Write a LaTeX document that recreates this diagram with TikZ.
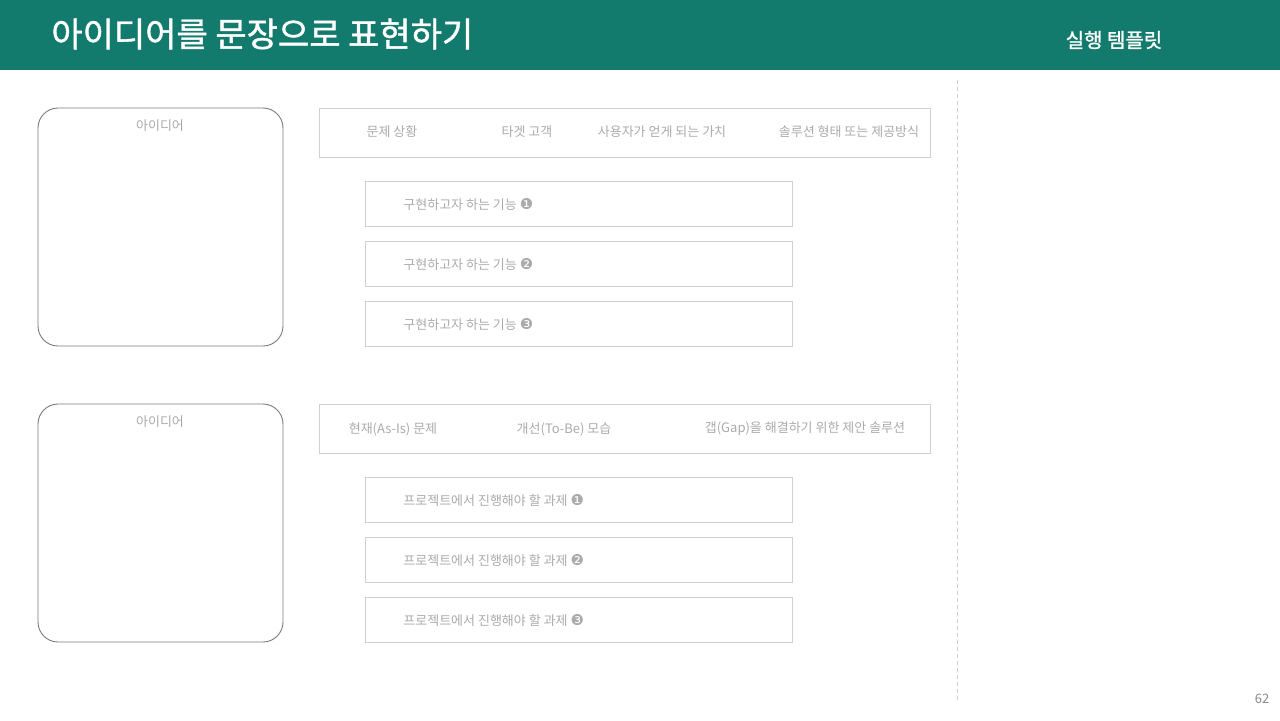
\documentclass[tikz,border=0pt]{standalone}
\usepackage{fontspec}
\setmainfont{Noto Sans CJK KR}
\newfontfamily\symfont{DejaVu Sans}
\newfontfamily\headfont[FakeBold=1.2]{Noto Sans CJK KR}
\definecolor{hdrgreen}{HTML}{137B6D}
\definecolor{boxline}{HTML}{D0D0D0}
\definecolor{roundline}{HTML}{7A7A7A}
\definecolor{lbltext}{HTML}{ABABAB}
\definecolor{pagegray}{HTML}{8A8A8A}
\begin{document}
\begin{tikzpicture}[x=0.5pt,y=-0.5pt,
  ideabox/.style={draw=roundline,line width=0.45pt,rounded corners=10pt},
  rowbox/.style={draw=boxline,line width=0.45pt},
  lbl/.style={text=lbltext,font=\fontsize{6.5}{7.5}\selectfont,inner sep=0pt}]
\newcommand\cnum[1]{{\symfont\fontsize{7.5}{8}\selectfont #1}}
\useasboundingbox (0,0) rectangle (1280,720);
\fill[white] (0,0) rectangle (1280,720);
% header
\fill[hdrgreen] (0,0) rectangle (1280,70);
\node[anchor=west,text=white,inner sep=0pt,font=\headfont\fontsize{17}{20}\selectfont] (title) at (51,34) {아이디어를 문장으로 표현하기};
\node[text=white,inner sep=0pt,font=\headfont\fontsize{10}{12}\selectfont] (sub) at (1114,40) {실행 템플릿};
% divider
\coordinate (dtop) at (957,80);
\coordinate (dbot) at (957,702);
\draw[boxline,line width=0.4pt,dash pattern=on 2pt off 1.5pt] (dtop) -- (dbot);
\node[text=pagegray,inner sep=0pt,font=\fontsize{6.5}{8}\selectfont] (page) at (1262,699) {62};

% ===== group 1 =====
\draw[ideabox] (38,108) rectangle (283,346);
\node[lbl] (idea1) at (160,126) {아이디어};
\draw[rowbox] (319,108) rectangle (930,157);
\node[lbl] (h11) at (392,132) {문제 상황};
\node[lbl] (h12) at (527,132) {타겟 고객};
\node[lbl] (h13) at (662,132) {사용자가 얻게 되는 가치};
\node[lbl] (h14) at (849,132) {솔루션 형태 또는 제공방식};
\draw[rowbox] (365,181) rectangle (792,226);
\draw[rowbox] (365,241) rectangle (792,286);
\draw[rowbox] (365,301) rectangle (792,346);
\node[lbl,anchor=west] (f1) at (403,204) {구현하고자 하는 기능 \cnum{❶}};
\node[lbl,anchor=west] (f2) at (403,264) {구현하고자 하는 기능 \cnum{❷}};
\node[lbl,anchor=west] (f3) at (403,324) {구현하고자 하는 기능 \cnum{❸}};

% ===== group 2 =====
\draw[ideabox] (38,404) rectangle (283,642);
\node[lbl] (idea2) at (160,422) {아이디어};
\draw[rowbox] (319,404) rectangle (930,453);
\node[lbl] (h21) at (393,429) {현재(As-Is) 문제};
\node[lbl] (h22) at (564,429) {개선(To-Be) 모습};
\node[lbl] (h23) at (805,429) {갭(Gap)을 해결하기 위한 제안 솔루션};
\draw[rowbox] (365,477) rectangle (792,522);
\draw[rowbox] (365,537) rectangle (792,582);
\draw[rowbox] (365,597) rectangle (792,642);
\node[lbl,anchor=west] (t1) at (403,500) {프로젝트에서 진행해야 할 과제 \cnum{❶}};
\node[lbl,anchor=west] (t2) at (403,560) {프로젝트에서 진행해야 할 과제 \cnum{❷}};
\node[lbl,anchor=west] (t3) at (403,620) {프로젝트에서 진행해야 할 과제 \cnum{❸}};
\end{tikzpicture}
\end{document}
